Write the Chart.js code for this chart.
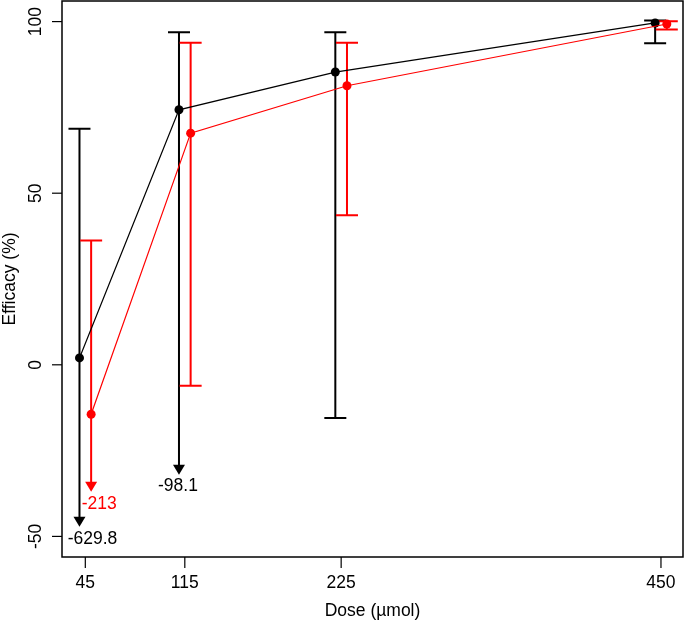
<!DOCTYPE html>
<html>
<head>
<meta charset="utf-8">
<script src="https://cdn.jsdelivr.net/npm/chart.js@4.4.0/dist/chart.umd.min.js"></script>
<style>
html, body { margin: 0; padding: 0; background: #fff; }
#wrap { width: 685px; height: 621px; }
</style>
</head>
<body>
<div id="wrap"><canvas id="c"></canvas></div>
<script>
// ---------- data ----------
const doses = [45, 115, 225, 450];
const doseTicks = [45, 115, 225, 450];
const effTicks = [-50, 0, 50, 100];

// black group
const blackMean  = [2.0, 74.3, 85.3, 99.6];
const blackUpper = [68.8, 96.9, 96.9, 100.3];
const blackLower = [-629.8, -98.1, -15.5, 93.7];
const blackArrowTip = [-47.2, -32.0, null, null]; // where the cut-off arrow ends

// red group
const redMean  = [-14.4, 67.5, 81.3, 99.3];
const redUpper = [36.2, 93.8, 93.8, 100.1];
const redLower = [-213, -6.1, 43.6, 97.7];
const redArrowTip = [-37.0, null, null, null];

const dodge = 4.1; // dose units, black left / red right of the tick

const FONT = '17.5px "Liberation Sans", Arial, Helvetica, sans-serif';

const groups = [
    { color: '#000000', shift: -dodge, mean: blackMean, upper: blackUpper, lower: blackLower, tip: blackArrowTip, labelDx: [13, -1, 0, 0] },
    { color: '#ff0000', shift: dodge, mean: redMean, upper: redUpper, lower: redLower, tip: redArrowTip, labelDx: [8, 0, 0, 0] }
];

function pts(g) {
    return doses.map((d, i) => ({ x: d + g.shift, y: g.mean[i] }));
}

// ---------- R style drawing: error bars, box, axes ----------
const rPlot = {
    id: 'rPlot',
    beforeDatasetsDraw(chart) {
        const { ctx, scales: { x, y } } = chart;
        ctx.save();
        groups.forEach(g => {
            ctx.strokeStyle = g.color;
            ctx.fillStyle = g.color;
            ctx.lineWidth = 2;
            g.mean.forEach((m, i) => {
                const px = x.getPixelForValue(doses[i] + g.shift);
                const top = y.getPixelForValue(g.upper[i]);
                const cut = g.lower[i] < y.min;
                const bot = y.getPixelForValue(cut ? g.tip[i] : g.lower[i]);
                ctx.beginPath();
                ctx.moveTo(px, top);
                ctx.lineTo(px, cut ? bot - 9 : bot);
                ctx.moveTo(px - 11, top);
                ctx.lineTo(px + 11, top);
                if (!cut) {
                    ctx.moveTo(px - 11, bot);
                    ctx.lineTo(px + 11, bot);
                }
                ctx.stroke();
                if (cut) {
                    ctx.beginPath();
                    ctx.moveTo(px - 6, bot - 10);
                    ctx.lineTo(px + 6, bot - 10);
                    ctx.lineTo(px, bot);
                    ctx.closePath();
                    ctx.fill();
                    ctx.font = FONT;
                    ctx.textAlign = 'center';
                    ctx.textBaseline = 'middle';
                    ctx.fillText(String(g.lower[i]), px + g.labelDx[i], bot + 12);
                }
            });
        });
        ctx.restore();
    },
    afterDraw(chart) {
        const { ctx, chartArea: a, scales: { x, y } } = chart;
        ctx.save();
        ctx.strokeStyle = '#000';
        ctx.fillStyle = '#000';
        ctx.lineWidth = 1.5;
        ctx.strokeRect(a.left, a.top, a.right - a.left, a.bottom - a.top);

        ctx.lineWidth = 1.2;
        ctx.font = FONT;
        // x axis
        ctx.textAlign = 'center';
        ctx.textBaseline = 'middle';
        doseTicks.forEach(t => {
            const px = x.getPixelForValue(t);
            ctx.beginPath();
            ctx.moveTo(px, a.bottom);
            ctx.lineTo(px, a.bottom + 11);
            ctx.stroke();
            ctx.fillText(String(t), px, a.bottom + 26);
        });
        ctx.fillText('Dose (\u00b5mol)', (a.left + a.right) / 2, 611);

        // y axis, labels turned like R's default
        effTicks.forEach(t => {
            const py = y.getPixelForValue(t);
            ctx.beginPath();
            ctx.moveTo(a.left - 10, py);
            ctx.lineTo(a.left, py);
            ctx.stroke();
            ctx.save();
            ctx.translate(36, py);
            ctx.rotate(-Math.PI / 2);
            ctx.fillText(String(t), 0, 0);
            ctx.restore();
        });
        ctx.save();
        ctx.translate(10, (a.top + a.bottom) / 2);
        ctx.rotate(-Math.PI / 2);
        ctx.fillText('Efficacy (%)', 0, 0);
        ctx.restore();
        ctx.restore();
    }
};

const ctx = document.getElementById('c').getContext('2d');
const chart = new Chart(ctx, {
    type: 'scatter',
    data: {
        datasets: [
            {
                label: 'red',
                data: pts(groups[1]),
                showLine: true,
                borderColor: '#ff0000',
                backgroundColor: '#ff0000',
                borderWidth: 1.2,
                pointRadius: 4.5,
                pointBorderWidth: 0
            },
            {
                label: 'black',
                data: pts(groups[0]),
                showLine: true,
                borderColor: '#000000',
                backgroundColor: '#000000',
                borderWidth: 1.2,
                pointRadius: 4.5,
                pointBorderWidth: 0
            }
        ]
    },
    options: {
        responsive: true,
        maintainAspectRatio: false,
        animation: false,
        layout: { autoPadding: false, padding: { top: 1, right: 2, left: 0, bottom: 0 } },
        plugins: { legend: { display: false }, tooltip: { enabled: false } },
        scales: {
            x: {
                type: 'linear',
                min: 28.6,
                max: 465.5,
                grid: { display: false },
                border: { display: false },
                ticks: { display: false },
                afterFit: s => { s.height = 64; }
            },
            y: {
                type: 'linear',
                min: -56,
                max: 106,
                grid: { display: false },
                border: { display: false },
                ticks: { display: false },
                afterFit: s => { s.width = 62; }
            }
        }
    },
    plugins: [rPlot]
});
</script>
</body>
</html>
